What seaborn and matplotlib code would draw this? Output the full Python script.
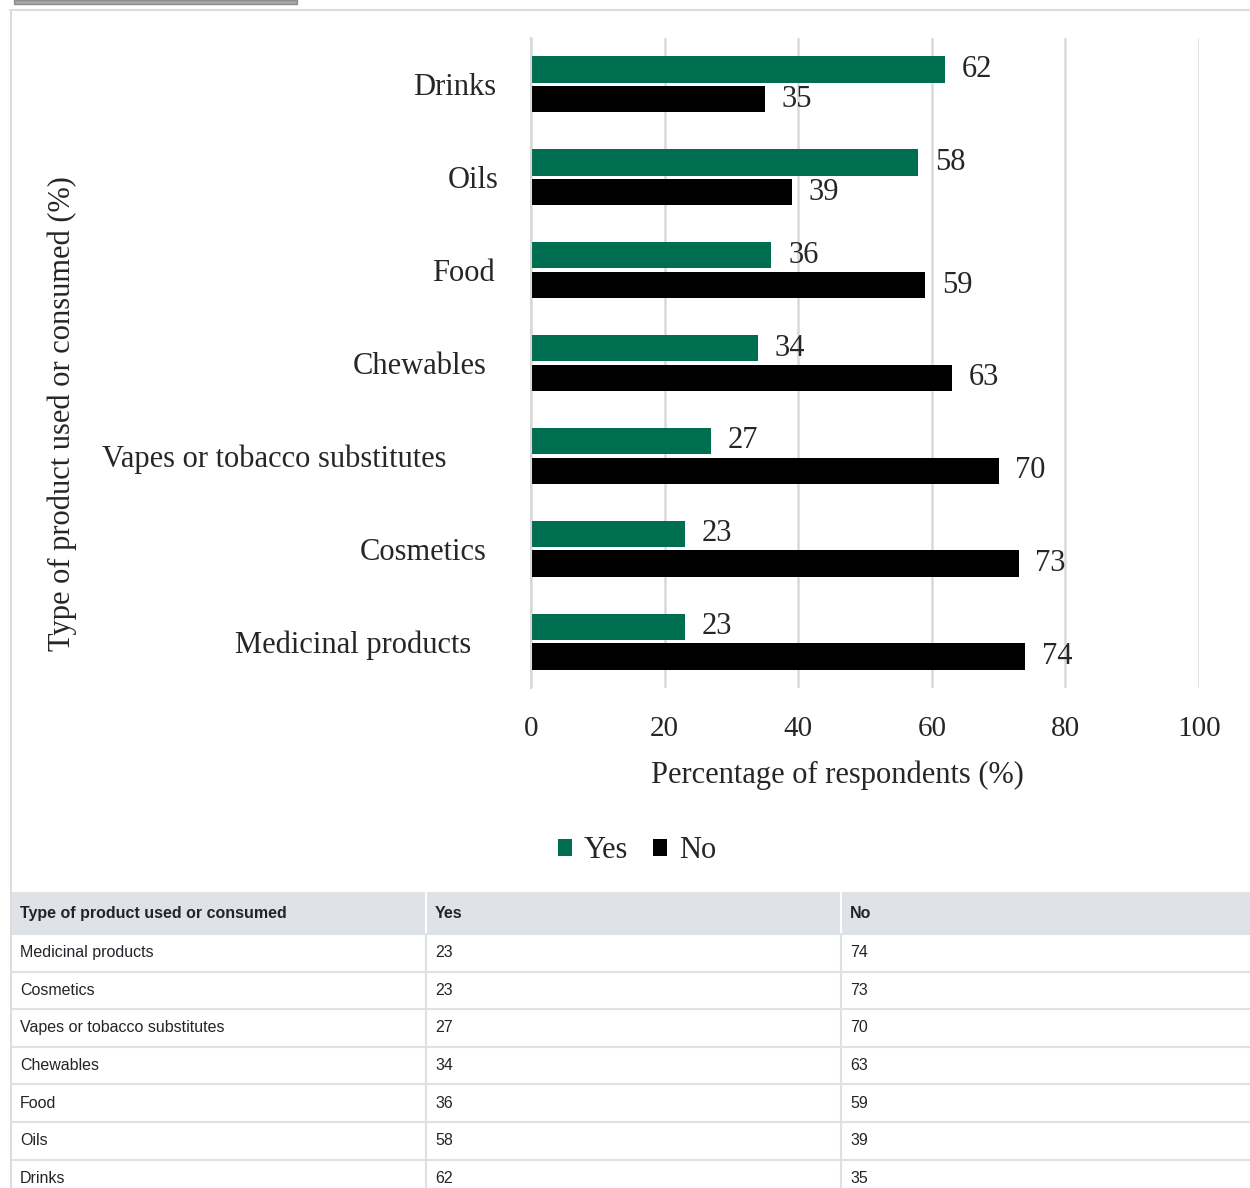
import numpy as np
import pandas as pd
import seaborn as sns
import matplotlib.pyplot as plt
import matplotlib.transforms as mtransforms
from matplotlib.patches import Rectangle
from matplotlib.lines import Line2D

# data (top to bottom)
categories = ["Drinks", "Oils", "Food", "Chewables",
              "Vapes or tobacco substitutes", "Cosmetics", "Medicinal products"]
yes_vals = [62, 58, 36, 34, 27, 23, 23]
no_vals = [35, 39, 59, 63, 70, 73, 74]
answers = ["Yes", "No"]
colors = ["#006f51", "#000000"]
xticks = [0, 20, 40, 60, 80, 100]

# horizontal nudges of the category labels (pixels), as in the source layout
label_nudge = [4, 7, 3, -5, -46, -5, -21]

W, H = 1250, 1188

sns.set_style("white")
plt.rcParams['font.family'] = ['Liberation Serif', 'DejaVu Serif']

df = pd.DataFrame({"product": categories, "Yes": yes_vals, "No": no_vals})
long_df = df.melt(id_vars="product", var_name="answer", value_name="pct")

fig = plt.figure(figsize=(W / 100, H / 100), dpi=100)

# page decorations: button remnant and frame
fig.add_artist(Rectangle((14 / W, 1 - 4 / H), 283 / W, 4 / H, transform=fig.transFigure,
                         facecolor="#a8a8a8", edgecolor="#8c8c8c", lw=1))
fig.add_artist(Line2D([10 / W, 1], [1 - 10 / H, 1 - 10 / H], transform=fig.transFigure,
                      color="#dcdcdc", lw=1.5))
fig.add_artist(Line2D([11 / W, 11 / W], [0, 1 - 10 / H], transform=fig.transFigure,
                      color="#dcdcdc", lw=1.5))

# main chart
ax = fig.add_axes([531 / W, 1 - 688 / H, 668 / W, 650 / H])
sns.barplot(data=long_df, y="product", x="pct", hue="answer", hue_order=answers,
            order=categories, palette=colors, orient="h", width=0.64, gap=0.12,
            saturation=1, linewidth=0, ax=ax)

for c in ax.containers:
    ax.bar_label(c, padding=12, fontsize=22)

ax.set_xlim(0, 100)
ax.set_ylim(6.5, -0.5)
ax.set_xticks(xticks)
ax.set_yticks(np.arange(-0.5, 7), minor=True)
ax.tick_params(axis="x", length=0, pad=20, labelsize=21)
ax.tick_params(axis="y", which="major", length=0, pad=28, labelsize=22)
ax.tick_params(axis="y", which="minor", length=7.2, width=1.5, color="#d9d9d9")
ax.grid(axis="x", color="#d9d9d9", lw=1.8)
ax.set_axisbelow(True)
for s in ["top", "right", "bottom"]:
    ax.spines[s].set_visible(False)
ax.spines["left"].set_color("#d9d9d9")
ax.spines["left"].set_linewidth(1.5)

for lab, dx in zip(ax.get_yticklabels(), label_nudge):
    lab.set_transform(lab.get_transform() +
                      mtransforms.ScaledTranslation(dx / 100, 0, fig.dpi_scale_trans))

ax.set_ylabel("")
ax.set_xlabel("Percentage of respondents (%)", fontsize=22)
ax.xaxis.label.set_va("center")
ax.xaxis.set_label_coords((837 - 531) / 668, (688 - 775) / 650)
fig.text(62 / W, 1 - 414 / H, "Type of product used or consumed (%)", rotation=90,
         ha="center", va="center", fontsize=22)

sns.move_legend(ax, loc="center", bbox_to_anchor=(637 / W, 1 - 851 / H),
                bbox_transform=fig.transFigure, ncol=2, frameon=False, title=None,
                fontsize=22, handlelength=0.45, handleheight=0.45,
                handletextpad=0.4, columnspacing=0.8)

# data table below the chart
tax = fig.add_axes([11 / W, 0, (W - 11) / W, (H - 892) / H])
tax.set_xlim(11, W)
tax.set_ylim(H, 892)
tax.axis("off")
grid_c = "#dee2e6"
header_h = 41
row_h = 37.6
col_x = [11, 426, 841]
top = 893
tax.add_patch(Rectangle((11, top), W - 11, header_h, facecolor="#dfe3e7", edgecolor="none"))
tax.axhline(top, color="#e3e3e3", lw=1.5)

header = ["Type of product used or consumed", "Yes", "No"]
for x, t in zip(col_x, header):
    tax.text(x + 9, top + header_h / 2, t, ha="left", va="center", fontsize=11.5,
             fontweight="bold", family="Liberation Sans", color="#212529")

rows = list(zip(categories[::-1], yes_vals[::-1], no_vals[::-1]))
for i, r in enumerate(rows):
    y0 = top + header_h + i * row_h
    tax.plot([11, W], [y0, y0], color=grid_c, lw=1.5)
    for x, v in zip(col_x, r):
        tax.text(x + 9, y0 + row_h / 2, str(v), ha="left", va="center", fontsize=11.5,
                 family="Liberation Sans", color="#212529")

for x in col_x[1:]:
    tax.plot([x, x], [top, top + header_h], color="white", lw=1.5)
    tax.plot([x, x], [top + header_h, H], color=grid_c, lw=1.5)

fig.savefig("out.png", dpi=100)
